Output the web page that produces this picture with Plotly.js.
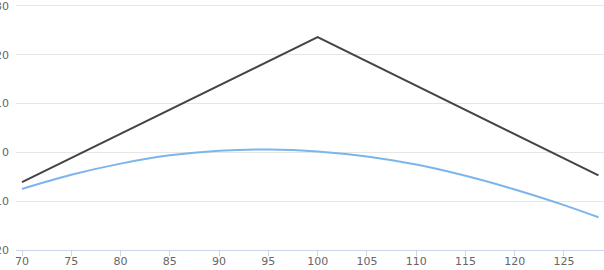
<!DOCTYPE html>
<html>
<head>
<meta charset="utf-8">
<script src="https://cdn.plot.ly/plotly-3.0.1.min.js"></script>
<style>html,body{margin:0;padding:0;background:#fff;}#chart{width:604px;height:270px;}</style>
</head>
<body>
<div id="chart"></div>
<script>
const blueX = [70, 75, 80, 85, 90, 95, 100, 105, 110, 115, 120, 125, 128.5];
const blueY = [-7.5, -4.6, -2.3, -0.6, 0.35, 0.6, 0.2, -0.85, -2.5, -4.8, -7.6, -10.8, -13.3];
const blackX = [70, 100, 128.5];
const blackY = [-6.1, 23.6, -4.7];
const xTicks = [70, 75, 80, 85, 90, 95, 100, 105, 110, 115, 120, 125];
const yTicks = [-20, -10, 0, 10, 20, 30];

const traces = [
  {x: blueX, y: blueY, type: 'scatter', mode: 'lines', line: {color: '#7cb5ec', width: 2, shape: 'spline'}, hoverinfo: 'none'},
  {x: blackX, y: blackY, type: 'scatter', mode: 'lines', line: {color: '#434348', width: 2}, hoverinfo: 'none'}
];

const font = {family: 'DejaVu Sans, Lucida Grande, sans-serif', size: 11, color: '#666666'};
const layout = {
  width: 604, height: 270,
  margin: {l: 16, r: 0, t: 4, b: 20},
  paper_bgcolor: '#ffffff', plot_bgcolor: '#ffffff',
  showlegend: false,
  font: font,
  xaxis: {
    range: [69.39, 129.06], tickvals: xTicks, ticktext: xTicks.map(String),
    showgrid: false, zeroline: false, showline: true, linecolor: '#ccd6eb', linewidth: 1,
    ticks: 'outside', ticklen: 5, tickcolor: '#ccd6eb', tickwidth: 1, tickfont: font,
    ticklabelstandoff: -4, ticklabeloverflow: 'allow'
  },
  yaxis: {
    range: [-20, 30.4], tickvals: yTicks, ticktext: yTicks.map(String),
    showgrid: true, gridcolor: '#e6e6e6', gridwidth: 1, zeroline: false, showline: false,
    ticks: '', ticklabelstandoff: 6, tickfont: font, ticklabeloverflow: 'allow'
  }
};
Plotly.newPlot('chart', traces, layout, {staticPlot: true, displayModeBar: false});
</script>
</body>
</html>
